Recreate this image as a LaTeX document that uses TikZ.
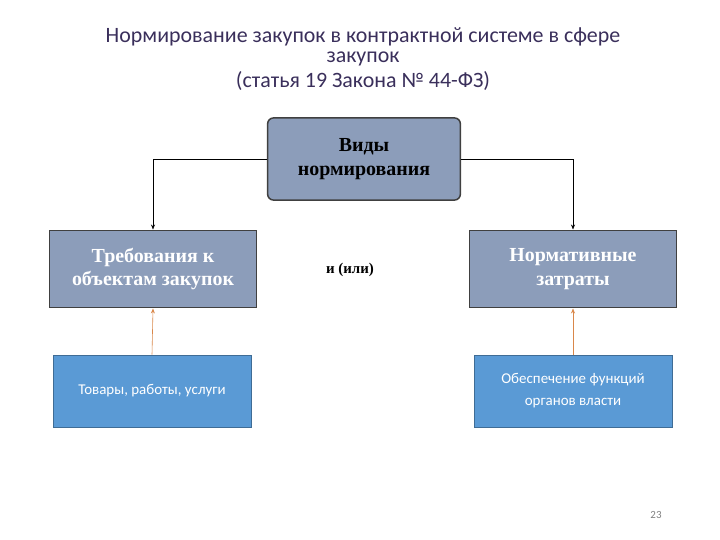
\documentclass[tikz,border=0pt]{standalone}
\usepackage{fontspec}
\setmainfont{Liberation Serif}
\newfontfamily\calfnt{Carlito}
\usetikzlibrary{arrows.meta}
\definecolor{ttl}{HTML}{3A2F5B}
\definecolor{gb}{HTML}{8C9DBA}
\definecolor{lb}{HTML}{5A9AD5}
\definecolor{org}{HTML}{D9874A}
\tikzset{
 big/.style={draw=black!75,line width=1pt,fill=gb,minimum width=7.3cm,minimum height=2.75cm,align=center,font=\bfseries\fontsize{20}{24}\selectfont,text=white},
 small/.style={draw=lb!70!black,fill=lb,minimum width=7cm,minimum height=2.55cm,align=center,font=\calfnt\fontsize{15}{22}\selectfont,text=white},
 conn/.style={-{Stealth[length=5pt,width=4pt]},line width=0.6pt},
}
\begin{document}
\begin{tikzpicture}[x=0.03528cm,y=-0.03528cm]
\useasboundingbox (0,0) rectangle (720,540);
\node[font=\calfnt\fontsize{22}{22}\selectfont,text=ttl] (t1) at (363,37) {Нормирование закупок в контрактной системе в сфере};
\node[font=\calfnt\fontsize{22}{22}\selectfont,text=ttl] (t2) at (363,59) {закупок};
\node[font=\calfnt\fontsize{22}{22}\selectfont,text=ttl] (t3) at (363,81) {(статья 19 Закона № 44-ФЗ)};
\node[big,rounded corners=6pt,minimum width=6.8cm,minimum height=2.9cm,text=black,line width=1.5pt] (top) at (364,159) {Виды\\нормирования};
\node[big] (L) at (153,269) {Требования к\\объектам закупок};
\node[big] (R) at (573,269) {Нормативные\\затраты};
\node[font=\bfseries\fontsize{15}{18}\selectfont] (mid) at (350,270) {и (или)};
\node[small] (BL) at (152,391) {Товары, работы, услуги};
\node[small] (BR) at (573,391) {Обеспечение функций\\органов власти};
\node[font=\calfnt\fontsize{11}{11}\selectfont,text=gray] (pg) at (656,515) {23};
\draw[conn] (top.west) -| (L.north);
\draw[conn] (top.east) -| (R.north);
\draw[conn,draw=org] (BL.north) -- (L.south);
\draw[conn,draw=org] (BR.north) -- (R.south);
\end{tikzpicture}
\end{document}
